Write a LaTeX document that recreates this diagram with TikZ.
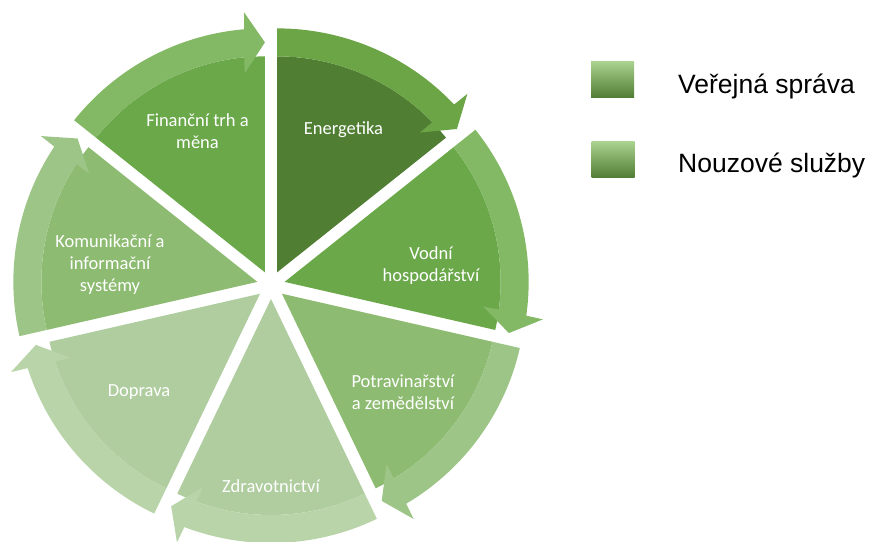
\documentclass[tikz,border=0pt]{standalone}
\usepackage{fontspec}
\setmainfont{Carlito}
\newfontfamily\legendfont{Liberation Sans}
\usetikzlibrary{positioning}
\definecolor{energywedge}{HTML}{507F34}
\definecolor{energyband}{HTML}{6BA545}
\definecolor{midwedge}{HTML}{6AA84A}
\definecolor{midband}{HTML}{83B865}
\definecolor{softwedge}{HTML}{8DBB71}
\definecolor{softband}{HTML}{9DC587}
\definecolor{palewedge}{HTML}{AFCD9F}
\definecolor{paleband}{HTML}{B8D4A8}
\definecolor{boxtop}{HTML}{A9D18E}
\definecolor{boxmid}{HTML}{74AF4B}
\definecolor{boxbottom}{HTML}{4F7C32}

\begin{document}
\begin{tikzpicture}[x=1pt, y=1pt,
    sector/.style={text=white, align=center, font=\fontsize{18.5}{22}\selectfont},
    legendbox/.style={rectangle, minimum width=43pt, minimum height=36pt, inner sep=0pt, top color=boxtop, middle color=boxmid, bottom color=boxbottom},
    legendtext/.style={anchor=base west, inner sep=0pt, font=\legendfont\fontsize{26.5}{30}\selectfont}
]
    \useasboundingbox (0,0) rectangle (870,541);
    \coordinate (hub) at (271,256);

    % seven exploded segments, each with its curved arrow band
    \foreach \k/\wcol/\bcol in {0/energywedge/energyband, 1/midwedge/midband,
            2/softwedge/softband, 3/palewedge/paleband, 4/palewedge/paleband,
            5/softwedge/softband, 6/midwedge/midband}{
        \pgfmathsetmacro{\s}{90-\k*360/7}
        \pgfmathsetmacro{\e}{\s-360/7}
        \pgfmathsetmacro{\m}{\s-180/7}
        \begin{scope}[shift={(hub)}, shift={(\m:14)}]
            \fill[\wcol] (0,0) -- (\s:216) arc[start angle=\s, end angle=\e, radius=216] -- cycle;
            \fill[\bcol] (\s:244) arc[start angle=\s, end angle=\e+4.9, radius=244]
                -- (\e+4.6:261) -- (\e:230) -- (\e+5.8:200) -- (\e+5.5:216)
                arc[start angle=\e+5.5, end angle=\s, radius=216] -- cycle;
        \end{scope}
    }

    \node[sector] (energy) at (343.5,411) {Energetika};
    \node[sector] (water) at (431,275) {Vodní\\hospodářství};
    \node[sector] (food) at (403,149) {Potravinařství\\a zemědělství};
    \node[sector] (health) at (271,55) {Zdravotnictví};
    \node[sector] (transport) at (139,149) {Doprava};
    \node[sector] (comms) at (110,276) {Komunikační a\\informační\\systémy};
    \node[sector] (finance) at (197.5,410) {Finanční trh a\\měna};

    % legend
    \node[legendbox] (adminbox) at (612.5,461) {};
    \node[legendbox] (rescuebox) at (613,381) {};
    \node[legendtext] (admin) at (678,447.7) {Veřejná správa};
    \node[legendtext] (rescue) at (678,368) {Nouzové služby};
\end{tikzpicture}
\end{document}
